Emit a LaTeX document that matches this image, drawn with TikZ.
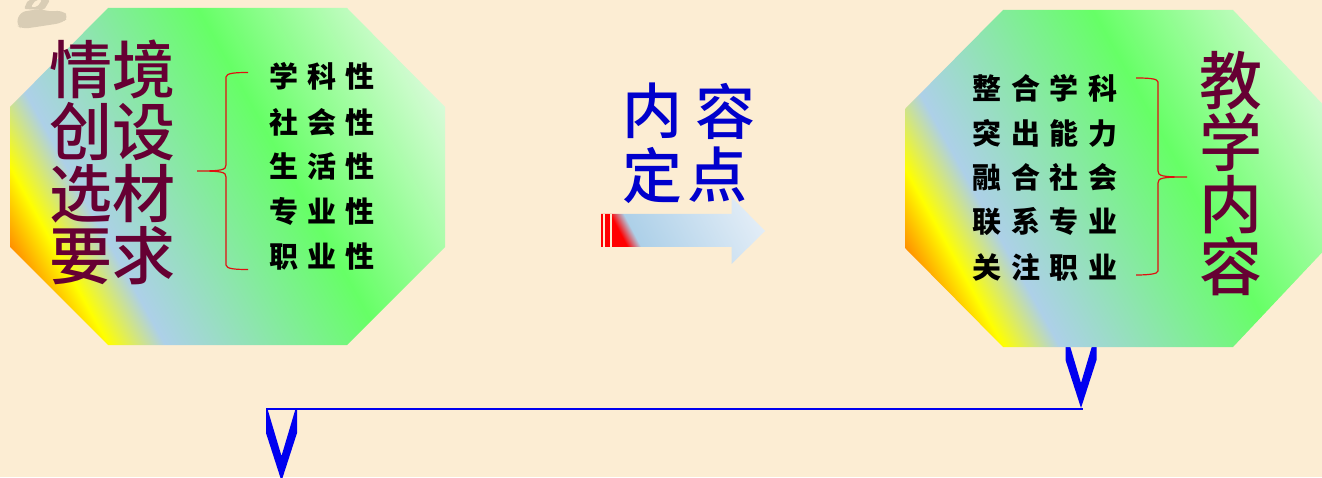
\documentclass[tikz,border=0pt]{standalone}
\usepackage{fontspec}
\newfontfamily\cjk{Noto Sans CJK SC Medium}
\newfontfamily\cjkb{Noto Sans CJK SC Black}
\usetikzlibrary{calc}
\definecolor{paper}{HTML}{FCEDD3}
\definecolor{wine}{HTML}{660033}
\definecolor{deepblue}{HTML}{0000CC}
\definecolor{vblue}{HTML}{0000F0}
\definecolor{bracered}{HTML}{E01010}
\definecolor{smudge}{HTML}{D9CDB5}
\definecolor{orangefill}{HTML}{FF8C00}
\definecolor{skyfill}{HTML}{ADD0E8}
\definecolor{greenfill}{HTML}{66FF66}
\definecolor{palefill}{HTML}{D8FBD8}
\definecolor{palearrow}{HTML}{EEF3FA}
\pgfdeclarehorizontalshading{octfill}{100bp}{
 color(0bp)=(orangefill); color(29.7bp)=(orangefill);
 color(33.7bp)=(yellow); color(38.7bp)=(skyfill);
 color(58bp)=(greenfill); color(75bp)=(palefill); color(100bp)=(palefill)}
\pgfdeclarehorizontalshading{arrowfill}{100bp}{
 color(0bp)=(red); color(29.7bp)=(red);
 color(33.3bp)=(skyfill); color(75bp)=(palearrow); color(100bp)=(palearrow)}
\tikzset{
 big/.style={font=\cjk\fontsize{63}{62}\selectfont,text=wine,inner sep=0pt,align=center},
 brush/.style={font=\cjkb\fontsize{29}{29}\selectfont,text=black,inner sep=0pt,anchor=center},
 title/.style={font=\cjk\fontsize{60}{60}\selectfont,text=deepblue,inner sep=0pt,anchor=center},
 bracecurve/.style={draw=bracered,line width=1.2pt},
 vshape/.style={fill=vblue,draw=none},
 link/.style={draw=vblue,line width=2pt}
}
% px coordinates, y measured from the top
\newcommand{\Oct}[2]{(#1+0,477-#2-99)--(#1+98,477-#2)--(#1+337,477-#2)--(#1+435,477-#2-99)--(#1+435,477-#2-239)--(#1+337,477-#2-337)--(#1+98,477-#2-337)--(#1+0,477-#2-239)--cycle}
\newcommand{\Vee}[2]{(#1-15.5,477-#2)--(#1-15.5,477-#2-24)--(#1,477-#2-72)--(#1+15.5,477-#2-24)--(#1+15.5,477-#2)--(#1+14,477-#2)--(#1,477-#2-47)--(#1-14,477-#2)--cycle}
\newcommand{\Gap}{\hspace{9.5pt}}
\begin{document}
\begin{tikzpicture}[x=1pt,y=1pt]
\useasboundingbox (0,0) rectangle (1322,477);
\fill[paper] (0,0) rectangle (1322,477);
% background smudge
\fill[smudge,rounded corners=6pt] (16,452)--(20,465)--(40,468)--(52,465)--(62,467)--(69,460)--(62,454)--(36,450)--(22,448)--cycle;
\fill[smudge,rounded corners=2pt] (24,468)--(28,477)--(50,477)--(44,467)--cycle;
\fill[paper,rounded corners=2pt] (31,470)--(36,477)--(42,477)--(37,470)--cycle;
% V marks and link
\fill[vshape] \Vee{1081}{336};
\begin{scope}
\clip (0,0) rectangle (1322,477);
\fill[vshape] \Vee{281.5}{409};
\end{scope}
\coordinate (linkL) at (266,68.5);
\coordinate (linkR) at (1083,68.5);
\draw[link] (linkL) -- (linkR);
% left octagon
\begin{scope}
\clip \Oct{10}{8};
\shade[shading=octfill,transform canvas={rotate around={29:(10,132)}}] (10,-300) rectangle (506,800);
\end{scope}
% right octagon
\begin{scope}
\clip (905,368)--(1003,467)--(1233,467)--(1331,364)--(1331,234)--(1233,130)--(1003,130)--(905,229)--cycle;
\shade[shading=octfill,transform canvas={rotate around={29:(905,130)}}] (905,-300) rectangle (1401,800);
\end{scope}
% left texts
\node[big] (leftTitle) at (112,315) {情境\\创设\\选材\\要求};
\node[brush] (l1) at (322,401) {学\Gap 科\Gap 性};
\node[brush] (l2) at (322,355) {社\Gap 会\Gap 性};
\node[brush] (l3) at (322,311) {生\Gap 活\Gap 性};
\node[brush] (l4) at (322,266) {专\Gap 业\Gap 性};
\node[brush] (l5) at (322,221) {职\Gap 业\Gap 性};
\draw[bracecurve] (248,404.5) .. controls (236,404.5) and (226,404) .. (226,400) -- (226,312) .. controls (226,307) and (222,306) .. (197,306) .. controls (222,306) and (226,305) .. (226,300) -- (226,212) .. controls (226,208) and (236,207.5) .. (248,207.5);
% right texts
\node[brush] (r1) at (1045,389) {整\Gap 合\Gap 学\Gap 科};
\node[brush] (r2) at (1045,344) {突\Gap 出\Gap 能\Gap 力};
\node[brush] (r3) at (1045,300) {融\Gap 合\Gap 社\Gap 会};
\node[brush] (r4) at (1045,255) {联\Gap 系\Gap 专\Gap 业};
\node[brush] (r5) at (1045,210) {关\Gap 注\Gap 职\Gap 业};
\draw[bracecurve] (1136,399) .. controls (1148,399) and (1158,398.5) .. (1158,395) -- (1158,306) .. controls (1158,301) and (1162,300) .. (1187,300) .. controls (1162,300) and (1158,299) .. (1158,294) -- (1158,206) .. controls (1158,203) and (1148,202) .. (1136,202);
\node[big] (rightTitle) at (1231,303) {教\\学\\内\\容};
% centre
\node[title] (c1) at (652,366) {内};
\node[title] (c2) at (725,366) {容};
\node[title] (c3) at (652,302) {定};
\node[title] (c4) at (717,302) {点};
% arrow
\begin{scope}
\clip (601,263)--(731.5,263)--(731.5,280)--(765,246)--(731.5,213)--(731.5,230)--(601,230)--cycle;
\shade[shading=arrowfill,transform canvas={rotate around={28:(601,246)}}] (601,100) rectangle (770,400);
\end{scope}
\fill[red] (601,230) rectangle (612,263);
\fill[paper] (603.3,230) rectangle (605,263);
\fill[paper] (610,230) rectangle (611.7,263);
\end{tikzpicture}
\end{document}
